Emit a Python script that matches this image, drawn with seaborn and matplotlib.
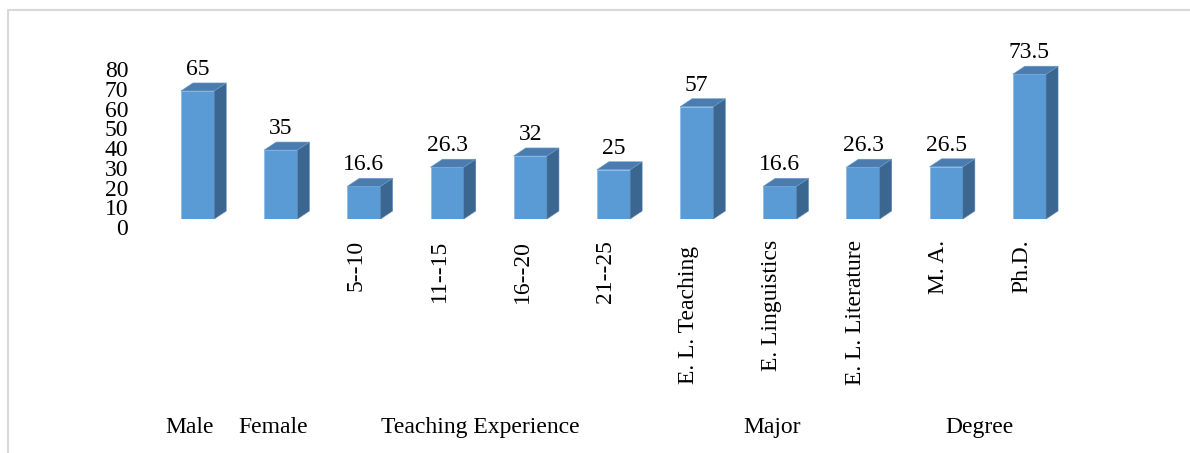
import numpy as np
import pandas as pd
import seaborn as sns
import matplotlib
matplotlib.use("Agg")
import matplotlib.pyplot as plt
import matplotlib.transforms as mtransforms
from matplotlib.patches import Polygon
from matplotlib.lines import Line2D

# ---- data ----
categories = ["Male", "Female", "5--10", "11--15", "16--20", "21--25",
              "E. L. Teaching", "E. Linguistics", "E. L. Literature", "M. A.", "Ph.D."]
values = [65, 35, 16.6, 26.3, 32, 25, 57, 16.6, 26.3, 26.5, 73.5]
rotated_labels = ["", "", "5--10", "11--15", "16--20", "21--25",
                  "E. L. Teaching ", "E. Linguistics", "E. L. Literature", "M. A.", "Ph.D."]
flat_labels = {0: "Male", 1: "Female"}
groups = ["Teaching Experience", "Major", "Degree"]
group_centers = [3.5, 7.0, 9.5]
y_ticks = [0, 10, 20, 30, 40, 50, 60, 70, 80]

sns.set_style("white")
plt.rcParams["font.family"] = ["Liberation Serif", "DejaVu Serif"]
plt.rcParams["text.color"] = "black"
plt.rcParams["xtick.color"] = "black"
plt.rcParams["ytick.color"] = "black"

FS = 17
W, H, DPI = 1190, 453, 100
fig = plt.figure(figsize=(W / DPI, H / DPI), dpi=DPI)
ax = fig.add_axes([156 / W, 1 - 219 / H, 915 / W, 157.6 / H])

df = pd.DataFrame({"cat": categories, "val": values})
front = "#5b9bd5"
top_c = "#4a7cb0"
side_c = "#3b6690"
sns.barplot(data=df, x="cat", y="val", order=categories, color=front,
            width=0.4, saturation=1, ax=ax, edgecolor="#8dbbe6", linewidth=0.6)

ax.set_xlim(-0.5, len(categories) - 0.5)
ax.set_ylim(0, 80)
ax.set_xlabel("")
ax.set_ylabel("")
for s in ax.spines.values():
    s.set_visible(False)

# 3-D faces derived from the bar patches
dx_px, dy_px = 12, 8
inv = ax.transData.inverted()
for p in ax.patches[:len(values)]:
    x0 = p.get_x()
    x1 = x0 + p.get_width()
    h = p.get_height()
    def off(x, y, ox, oy):
        d = ax.transData.transform((x, y))
        return inv.transform((d[0] + ox, d[1] + oy))
    side = [(x1, 0), tuple(off(x1, 0, dx_px, dy_px)), tuple(off(x1, h, dx_px, dy_px)), (x1, h)]
    top = [(x0, h), tuple(off(x0, h, dx_px, dy_px)), tuple(off(x1, h, dx_px, dy_px)), (x1, h)]
    ax.add_patch(Polygon(side, closed=True, facecolor=side_c, edgecolor="#5e88b3",
                         linewidth=0.4, clip_on=False, zorder=1))
    ax.add_patch(Polygon(top, closed=True, facecolor=top_c, edgecolor="#6a9ccc",
                         linewidth=0.4, clip_on=False, zorder=1))
    ax.annotate(f"{h:g}", (x0 + p.get_width() / 2, h), xytext=(0, 11.5),
                textcoords="offset points", ha="center", va="baseline",
                fontsize=FS, color="black", annotation_clip=False)

# y ticks
ax.set_yticks(y_ticks)
ax.set_yticklabels([str(t) for t in y_ticks], fontsize=FS)
ax.tick_params(axis="y", length=0, pad=20)
yoff = mtransforms.ScaledTranslation(0, -8 / DPI, fig.dpi_scale_trans)
for lab in ax.get_yticklabels():
    lab.set_transform(lab.get_transform() + yoff)

# x ticks (rotated)
ax.set_xticks(range(len(categories)))
ax.set_xticklabels(rotated_labels, rotation=90, fontsize=FS, va="top", ha="center")
ax.tick_params(axis="x", length=0, pad=15)
xoff = mtransforms.ScaledTranslation(-8 / DPI, 0, fig.dpi_scale_trans)
for lab in ax.get_xticklabels():
    lab.set_transform(lab.get_transform() + xoff)

# flat labels at bottom row
bt = mtransforms.blended_transform_factory(ax.transData, fig.transFigure) + xoff
base_y = 1 - 433 / H
for i, t in flat_labels.items():
    ax.text(i, base_y, t, transform=bt, ha="center", va="baseline", fontsize=FS)
for g, c in zip(groups, group_centers):
    ax.text(c, base_y, g, transform=bt, ha="center", va="baseline", fontsize=FS)

# light frame (top and left)
fig.add_artist(Line2D([8 / W, 1.0], [1 - 10 / H, 1 - 10 / H], transform=fig.transFigure,
                      color="#d9d9d9", linewidth=1.5))
fig.add_artist(Line2D([8 / W, 8 / W], [1 - 10 / H, 0.0], transform=fig.transFigure,
                      color="#d9d9d9", linewidth=1.5))

fig.savefig("out.png", dpi=DPI)
